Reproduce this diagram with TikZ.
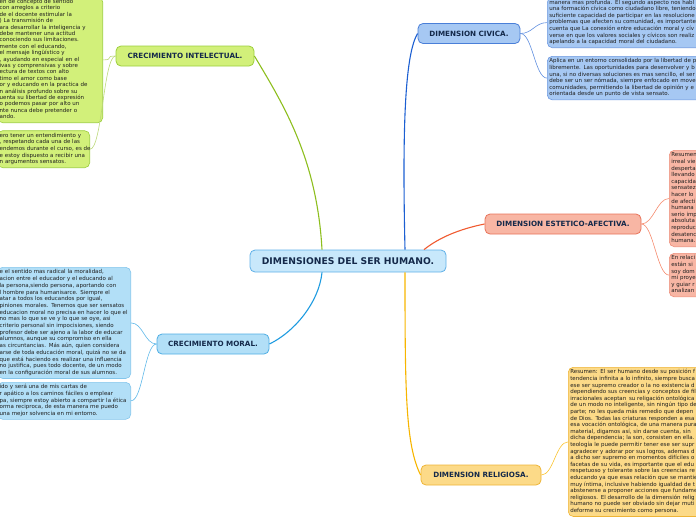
\documentclass[tikz,border=0pt]{standalone}
\usepackage{fontspec}
\setmainfont{DejaVu Sans}
\usetikzlibrary{positioning}
\definecolor{ink}{HTML}{14294A}\definecolor{body}{HTML}{1E1E1E}
\definecolor{hubF}{HTML}{C8E8FB}\definecolor{hubD}{HTML}{5FB0E8}
\definecolor{gF}{HTML}{D2F07A}\definecolor{gD}{HTML}{9CCE3C}\definecolor{lnG}{HTML}{8DBE1E}
\definecolor{mF}{HTML}{B2DFF7}\definecolor{mD}{HTML}{4FAEE4}\definecolor{lnM}{HTML}{1E9BE0}
\definecolor{cF}{HTML}{A6C8F3}\definecolor{cD}{HTML}{4A7FD8}\definecolor{lnC}{HTML}{1C5FD2}
\definecolor{pF}{HTML}{F8B6A4}\definecolor{pD}{HTML}{E8735A}\definecolor{lnP}{HTML}{F05A30}
\definecolor{yF}{HTML}{FCDA88}\definecolor{yD}{HTML}{EEB436}\definecolor{lnY}{HTML}{F7B500}
\newcommand\blk[1]{\begin{tabular}{@{}l@{}}#1\end{tabular}}
\tikzset{box/.style={draw,rounded corners=5pt,line width=0.8pt},
hub/.style={box,fill=hubF,draw=hubD,text=ink,font=\fontsize{9.2}{10}\selectfont\bfseries,minimum width=196pt,minimum height=22pt,inner sep=0pt},
br/.style={box,text=ink,font=\fontsize{7.2}{8}\selectfont\bfseries,minimum height=20pt,inner sep=0pt},
tx/.style={box,line width=0.6pt,text=body,font=\fontsize{5.5}{6.6}\selectfont,align=left,inner xsep=2pt,inner ysep=2pt},
main/.style={line width=1.1pt},sub/.style={line width=0.6pt}}

\begin{document}
\begin{tikzpicture}[x=1pt,y=-1pt]
\path[use as bounding box,clip](0,0)rectangle(696,520);
\node[hub](cen)at(348,261){DIMENSIONES DEL SER HUMANO.};
% ramas principales
\node[br,fill=gF,draw=gD,minimum width=138pt](intel)at(185,56){CRECIMIENTO INTELECTUAL.};
\node[br,fill=mF,draw=mD,minimum width=112pt](moral)at(213,344){CRECIMIENTO MORAL.};
\node[br,fill=cF,draw=cD,minimum width=102pt](civic)at(469,33.5){DIMENSION CIVICA.};
\node[br,fill=pF,draw=pD,minimum width=156pt](estet)at(563,224){DIMENSION ESTETICO-AFECTIVA.};
\node[br,fill=yF,draw=yD,minimum width=120pt](relig)at(481,475){DIMENSION RELIGIOSA.};
% textos
\node[tx,fill=gF,draw=gD,font=\fontsize{5.5}{6.4}\selectfont,text width=101pt,anchor=south east](g1)at(103,123){\blk{en de concepto de sentido\\con arreglos a criterio\\de el docente estimular la\\) La transmisión de\\ara desarrollar la inteligencia y\\debe mantener una actitud\\conociendo sus limitaciones.\\mente con el educando,\\el mensaje lingüístico y\\, ayudando en especial en el\\ivas y comprensivas y sobre\\ectura de textos con alto\\timo el amor como base\\or y educando en la practica de\\n análisis profundo sobre su\\uenta su libertad de expresión\\o podemos pasar por alto un\\nte nunca debe pretender o\\ando.}};
\node[tx,fill=gF,draw=gD,text width=88pt,anchor=south east](g2)at(90,168){\blk{ero tener un entendimiento y\\, respetando cada una de las\\endemos durante el curso, es de\\e estoy dispuesto a recibir una\\n argumentos sensatos.}};
\node[tx,fill=mF,draw=mD!70,font=\fontsize{5.5}{6.7}\selectfont,text width=129pt,anchor=north east](m1)at(131,267){\blk{e el sentido mas radical la moralidad,\\acion entre el educador y el educando al\\la persona,siendo persona, aportando con\\l hombre para humanisarce. Siempre el\\atar a todos los educandos por igual,\\piniones morales. Tenemos que ser sensatos\\educacion moral no precisa en hacer lo que el\\no mas lo que se ve y lo que se oye, asi\\criterio personal sin impocisiones, siendo\\profesor debe ser ajeno a la labor de educar\\alumnos, aunque su compromiso en ella\\as circuntancias. Más aún, quien considera\\arse de toda educación moral, quizá no se da\\que está haciendo es realizar una influencia\\no justifica, pues todo docente, de un modo\\en la configuración moral de sus alumnos.}};
\node[tx,fill=mF,draw=mD!70,text width=129pt,anchor=north east](m2)at(131,382){\blk{ido y será una de mis cartas de\\r apático a los caminos fáciles o emplear\\pa, siempre estoy abierto a compartir la ética\\orma reciproca, de esta manera me puedo\\una mejor solvencia en mi entorno.}};
\node[tx,fill=cF,draw=cD!80,text width=200pt,anchor=south west](c1)at(547,48){\blk{manera mas profunda. El segundo aspecto nos habl\\una formación cívica como ciudadano libre, teniendo\\suficiente capacidad de participar en las resolucione\\problemas que afecten su comunidad, es importante\\cuenta que La conexión entre educación moral y cív\\verse en que los valores sociales y cívicos son realiz\\apelando a la capacidad moral del ciudadano.}};
\node[tx,fill=cF,draw=cD!80,text width=200pt,anchor=north west](c2)at(547,56){\blk{Aplica en un entorno consolidado por la libertad de p\\libremente. Las oportunidades para desenvolver y b\\una, si no diversas soluciones es mas sencillo, el ser\\debe ser un ser nómada, siempre enfocado en move\\comunidades, permitiendo la libertad de opinión y e\\orientada desde un punto de vista sensato.}};
\node[tx,fill=pF,draw=pD!80,text width=100pt,anchor=north west](p1)at(669,150){\blk{Resumen\\irreal vie\\desperta\\llevando\\capacida\\sensatez\\hacer lo\\de afecti\\humana\\serio imp\\absoluta\\reproduc\\desatenc\\humana.}};
\node[tx,fill=pF,draw=pD!80,text width=100pt,anchor=north west](p2)at(669,253){\blk{En relaci\\están si\\soy dom\\mi proye\\y guiar r\\analizan}};
\node[tx,fill=yF,draw=yD,text width=200pt,anchor=north west](y1)at(568,367){\blk{Resumen: El ser humano desde su posición f\\tendencia infinita a lo infinito, siempre busca\\ese ser supremo creador o la no existencia d\\dependiendo sus creencias y conceptos de fil\\irracionales aceptan\, su religación ontológica\\de un modo no inteligente, sin ningún tipo de\\parte; no les queda más remedio que depen\\de Dios. Todas las criaturas responden a esa\\esa vocación ontológica, de una manera pura\\material, digamos así, sin darse cuenta, sin\\dicha dependencia; la son, consisten en ella.\\teología le puede permitir tener ese ser supr\\agradecer y adorar por sus logros, ademas d\\a dicho ser supremo en momentos difíciles o\\facetas de su vida, es importante que el edu\\respetuoso y tolerante sobre las creencias re\\educando ya que esas relación que se mantie\\muy íntima, inclusive habiendo igualdad de t\\abstenerse a proponer acciones que fundame\\religiosos. El desarrollo de la dimensión relig\\humano no puede ser obviado sin dejar muti\\deforme su crecimiento como persona.}};
% conectores
\draw[main,lnG]([xshift=-26pt]cen.north).. controls +(-5,-90) and +(30,50) ..(intel.east);
\draw[main,lnM]([xshift=-26pt]cen.south).. controls +(-3,30) and +(25,-12) ..(moral.east);
\draw[main,lnC]([xshift=57pt]cen.north).. controls +(-3,-130) and +(-12,20) ..(civic.west);
\draw[main,lnP]([xshift=76pt]cen.north).. controls +(15,-12) and +(-25,5) ..(estet.west);
\draw[main,lnY]([xshift=57pt]cen.south).. controls +(0,120) and +(-15,-30) ..(relig.west);
\foreach\a/\b/\c in{intel/g1/lnG!60,intel/g2/lnG!60,moral/m1/lnM!70,moral/m2/lnM!70}\draw[sub,\c](\a.west).. controls +(-12,0) and +(12,0) ..(\b.east);
\foreach\a/\b/\c in{civic/c1/lnC!70,civic/c2/lnC!70,estet/p1/lnP!70,estet/p2/lnP!70,relig/y1/lnY!80}\draw[sub,\c](\a.east).. controls +(12,0) and +(-12,0) ..(\b.west);
\end{tikzpicture}
\end{document}
